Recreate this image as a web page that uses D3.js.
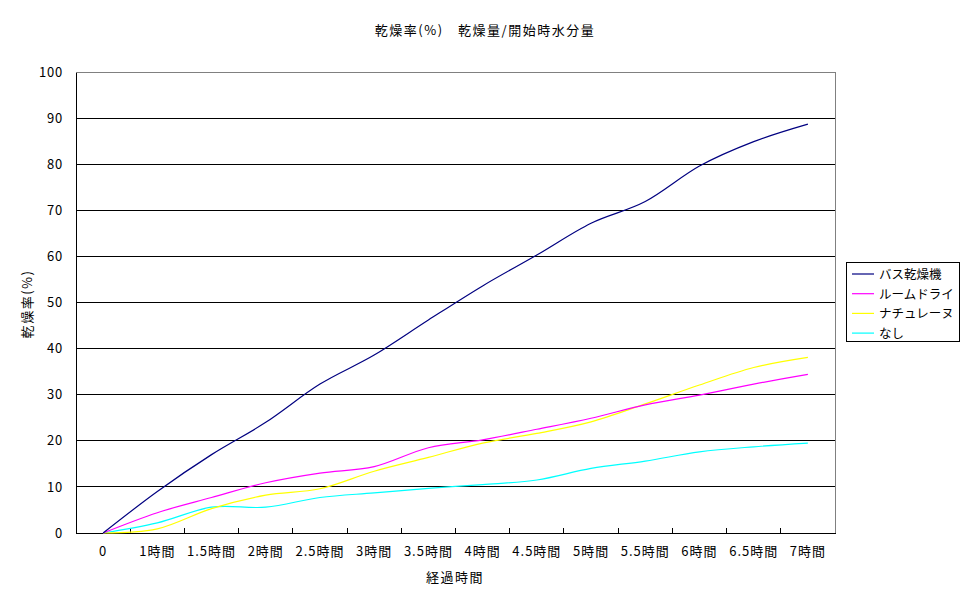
<!DOCTYPE html>
<html><head><meta charset="utf-8">
<script src="https://cdn.jsdelivr.net/npm/d3@7"></script>
<style>
body{margin:0;background:#fff;}
text{font-family:"Noto Sans CJK JP","Noto Sans",sans-serif;font-size:13px;fill:#000;}
</style></head>
<body><svg id="c" width="970" height="603"></svg>
<script>
const categories = ["0","1時間","1.5時間","2時間","2.5時間","3時間","3.5時間","4時間","4.5時間","5時間","5.5時間","6時間","6.5時間","7時間"];
const seriesNames = ["バス乾燥機","ルームドライ","ナチュレーヌ","なし"];
const bath    = [0, 9.0, 17.0, 24.0, 32.3, 38.6, 46.2, 53.6, 60.3, 67.2, 71.9, 79.6, 84.9, 88.7];
const room    = [0, 4.4, 7.7, 10.9, 13.0, 14.4, 18.5, 20.2, 22.5, 24.9, 27.8, 29.9, 32.3, 34.4];
const natural = [0, 0.9, 5.3, 8.2, 9.6, 13.4, 16.4, 19.5, 21.6, 24.1, 28.0, 32.1, 35.9, 38.1];
const none    = [0, 2.2, 5.6, 5.6, 7.7, 8.7, 9.7, 10.5, 11.5, 14.0, 15.6, 17.6, 18.7, 19.5];
const colors  = ["#000080","#ff00ff","#ffff00","#00ffff"];
const yTicks  = [0,10,20,30,40,50,60,70,80,90,100];
const title = "乾燥率(%)　乾燥量/開始時水分量";
const xTitle = "経過時間";
const yTitle = "乾燥率(%)";

const svg = d3.select("#c");
const L = 76, R = 835, T = 72, B = 533;
const x = d3.scaleBand().domain(categories).range([L, R]).padding(0);
const y = d3.scaleLinear().domain([0, 100]).range([B, T]);

// gridlines
svg.append("g").selectAll("line").data(yTicks.filter(d => d > 0 && d < 100)).join("line")
  .attr("x1", L).attr("x2", R).attr("y1", d => y(d)).attr("y2", d => y(d))
  .attr("stroke", "#000").attr("stroke-width", 1).attr("shape-rendering","crispEdges");
// plot border top/right gray
svg.append("path").attr("d", `M${L},${T}H${R}V${B}`).attr("fill","none")
  .attr("stroke","#808080").attr("shape-rendering","crispEdges");

// y axis
const ya = svg.append("g").attr("transform", `translate(${L},0)`)
  .call(d3.axisLeft(y).tickValues(yTicks).tickSize(0).tickPadding(13));
ya.select(".domain").attr("stroke","#000").attr("shape-rendering","crispEdges");
ya.selectAll("text").style("font-size","13px").style("font-family","\"Noto Sans CJK JP\",sans-serif")
  .style("letter-spacing","0.8px");

// x axis with ticks at category boundaries
const xa = svg.append("g").attr("transform", `translate(0,${B})`)
  .call(d3.axisBottom(x).tickSize(0).tickPadding(14));
xa.select(".domain").attr("stroke","#000").attr("shape-rendering","crispEdges");
xa.selectAll("text").style("font-size","13px").style("font-family","\"Noto Sans CJK JP\",sans-serif")
  .style("letter-spacing","1px");
svg.append("g").selectAll("line").data(categories.slice(1)).join("line")
  .attr("x1", d => x(d)).attr("x2", d => x(d)).attr("y1", B).attr("y2", B - 5)
  .attr("stroke","#000").attr("shape-rendering","crispEdges");

// lines
const all = [bath, room, natural, none];
const line = d3.line()
  .x((d, i) => x(categories[i]) + x.bandwidth() / 2)
  .y(d => y(d))
  .curve(d3.curveCatmullRom.alpha(0));
[3,2,1,0].forEach(k => {
  svg.append("path").datum(all[k]).attr("d", line)
    .attr("fill","none").attr("stroke", colors[k]).attr("stroke-width", 1.2);
});

// titles
svg.append("text").attr("x", 485).attr("y", 35).attr("text-anchor","middle")
  .style("letter-spacing","1.5px").text(title);
svg.append("text").attr("x", 455).attr("y", 582).attr("text-anchor","middle")
  .style("letter-spacing","1.5px").text(xTitle);
svg.append("text").attr("transform","translate(32,304) rotate(-90)").attr("text-anchor","middle")
  .style("letter-spacing","1.5px").text(yTitle);

// legend
const lg = svg.append("g");
lg.append("rect").attr("x", 846.5).attr("y", 262.5).attr("width", 113).attr("height", 79)
  .attr("fill","#fff").attr("stroke","#000");
seriesNames.forEach((n, i) => {
  const yy = 274 + i * 19.7;
  lg.append("line").attr("x1", 852).attr("x2", 874).attr("y1", yy).attr("y2", yy)
    .attr("stroke", colors[i]).attr("stroke-width", 1.2);
  lg.append("text").attr("x", 879).attr("y", yy + 5).style("font-size","12.5px").text(n);
});
</script></body></html>
